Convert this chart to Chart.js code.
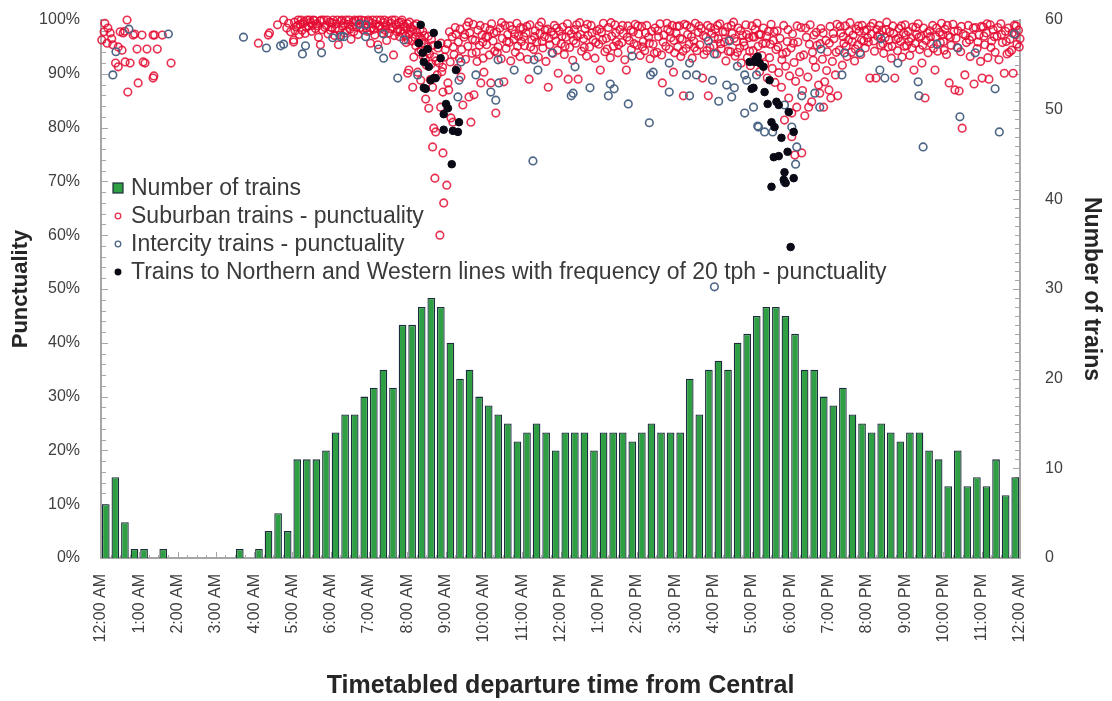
<!DOCTYPE html>
<html>
<head>
<meta charset="utf-8">
<script src="https://cdn.jsdelivr.net/npm/chart.js@4"></script>
<style>
body{margin:0;background:#fff;}
#wrap{width:1112px;height:701px;}
</style>
</head>
<body>
<div id="wrap"><canvas id="chart" width="1112" height="701"></canvas></div>
<script>
// tick labels along the time axis (one per hour)
const hourLabels = ['12:00 AM','1:00 AM','2:00 AM','3:00 AM','4:00 AM','5:00 AM','6:00 AM','7:00 AM','8:00 AM','9:00 AM','10:00 AM','11:00 AM',
	'12:00 PM','1:00 PM','2:00 PM','3:00 PM','4:00 PM','5:00 PM','6:00 PM','7:00 PM','8:00 PM','9:00 PM','10:00 PM','11:00 PM','12:00 AM'];

// number of trains in each 15 minute slot, 00:00 .. 23:45
const trainsPer15 = [
	6,9,4,1,1,0,1,0,
	0,0,0,0,0,0,1,0,
	1,3,5,3,11,11,11,12,
	14,16,16,18,19,21,19,26,
	26,28,29,28,24,20,21,18,
	17,16,15,13,14,15,14,12,
	14,14,14,12,14,14,14,13,
	14,15,14,14,14,20,16,21,
	22,21,24,25,27,28,28,27,
	25,21,21,18,17,19,16,15,
	14,15,14,13,14,14,12,11,
	8,12,8,9,8,11,7,9
];

// [hour of day, punctuality %]
const suburban = [
	[0.02,96.3],[0.08,97.8],[0.1,99.4],[0.16,95.7],[0.18,98.5],[0.24,97.6],[0.28,96.5],[0.31,95.4],[0.38,92.0],[0.45,95.0],[0.45,91.3],[0.5,97.8],
	[0.55,94.4],[0.58,97.6],[0.62,97.9],[0.63,92.2],[0.68,100],[0.7,86.6],[0.76,92.0],[0.84,97.2],[0.88,97.4],[0.94,94.6],[0.97,88.3],[1.07,97.2],
	[1.1,92.2],[1.15,92.0],[1.2,94.6],[1.36,97.2],[1.36,89.2],[1.38,89.6],[1.4,97.2],[1.47,94.6],[1.6,97.2],[1.83,92.0],
	[4.11,95.7],[4.37,97.2],[4.4,97.6],[4.61,99.1],[4.77,100],[4.85,98.5],[4.9,99.4],[4.95,97.8],[5.03,96.3],[5.03,95.9],
	[5.05,99.6],[5.1,98.7],[5.15,100],[5.2,99.2],[5.25,98.1],[5.3,99.7],[5.33,97.5],[5.38,100],[5.42,98.9],[5.47,99.5],[5.5,97.9],
	[5.55,100],[5.6,98.4],[5.63,99.3],[5.68,96.8],[5.72,99.8],[5.73,95.4],[5.78,98.2],[5.82,100],[5.88,99],[5.93,97.4],[5.97,99.6],
	[6.02,98.6],[6.06,100],[6.1,97.1],[6.14,99.3],[6.2,95.4],[6.22,98.1],[6.27,99.8],[6.31,98.9],[6.36,97.6],[6.4,100],[6.45,99.2],
	[6.5,98.3],[6.53,96.4],[6.58,99.6],[6.62,100],[6.67,98.7],[6.71,97.3],[6.76,99.4],[6.8,100],[6.84,98.2],[6.9,99.1],[6.95,97.9],
	[7.0,99.7],[7.04,95.7],[7.06,98.5],[7.1,100],[7.15,97.2],[7.18,99.2],[7.23,95.4],[7.25,98.8],[7.3,100],[7.34,97.6],[7.38,99.5],
	[7.42,98.1],[7.46,96.2],[7.5,99.8],[7.55,98.4],[7.6,100],[7.64,93.5],[7.66,97.1],[7.7,99.1],[7.75,98.2],[7.8,96.9],[7.84,99.6],
	[7.88,97.5],[7.92,98.8],[7.97,95.8],
	[8.0,99.3],[8.01,90.1],[8.04,97.4],[8.04,90.7],[8.08,98.6],[8.12,96.1],[8.14,87.5],[8.17,93.1],[8.18,99.0],[8.22,95.2],[8.25,97.7],
	[8.27,90.3],[8.3,94.1],[8.33,98.2],[8.35,88.8],[8.38,96.3],[8.42,93.2],[8.45,97.1],[8.48,85.3],[8.5,91.6],[8.53,95.0],[8.56,83.6],
	[8.58,93.7],[8.6,88.9],[8.63,96.4],[8.66,76.4],[8.66,87.5],[8.69,79.9],[8.72,70.6],[8.74,79.2],[8.75,92.4],[8.8,94.8],[8.85,60.0],
	[8.87,83.8],[8.9,90.4],[8.93,75.3],[8.93,86.6],[8.95,66.0],[8.97,93.1],
	[9.03,69.3],[9.06,88.3],[9.05,95.6],[9.08,87.0],[9.12,92.2],[9.14,81.8],[9.17,96.9],[9.19,81.0],[9.22,93.6],[9.27,97.4],[9.3,91.0],
	[9.33,95.9],[9.38,98.3],[9.4,89.4],[9.42,94.5],[9.45,84.2],[9.48,96.8],[9.52,92.7],[9.55,98.9],[9.58,95.1],[9.61,85.7],[9.63,97.6],
	[9.66,81.0],[9.69,93.8],[9.72,99.2],[9.74,86.1],[9.77,96.2],[9.8,94.0],[9.84,98.1],[9.88,95.3],[9.92,88.3],[9.95,97.2],[9.98,92.9],
	[10.0,90.3],[10.03,98.6],[10.07,95.4],[10.1,97.0],[10.14,93.5],[10.18,88.3],[10.2,99.3],[10.24,96.1],[10.28,94.2],[10.31,82.7],
	[10.33,97.8],[10.37,95.0],[10.42,98.5],[10.45,92.8],[10.48,96.6],[10.52,88.5],[10.55,99.0],[10.58,94.7],[10.62,97.3],[10.66,95.8],
	[10.7,92.4],[10.74,98.2],[10.78,96.4],[10.82,94.0],[10.86,99.4],[10.9,97.0],[10.94,93.2],[10.98,96.0],
	[11.02,98.4],[11.06,95.2],[11.1,97.6],[11.14,92.7],[11.18,89.0],[11.2,99.1],[11.25,96.3],[11.3,94.5],[11.34,98.0],[11.38,95.9],
	[11.42,93.1],[11.46,97.5],[11.5,99.6],[11.54,94.8],[11.58,96.9],[11.62,92.3],[11.66,98.3],[11.68,87.5],[11.72,95.4],[11.76,97.8],
	[11.8,93.8],[11.84,99.0],[11.88,96.1],[11.92,94.4],[11.94,90.1],[11.97,97.9],
	[12.02,95.6],[12.06,98.7],[12.1,93.6],[12.14,96.8],[12.18,99.3],[12.2,89.0],[12.24,94.9],[12.28,97.4],[12.32,92.5],[12.36,98.2],
	[12.4,95.7],[12.44,97.0],[12.46,89.0],[12.5,99.5],[12.55,94.2],[12.6,96.5],[12.64,98.4],[12.68,93.3],[12.72,97.1],[12.76,95.0],
	[12.8,99.0],[12.85,96.3],[12.9,92.9],[12.95,98.0],
	[13.0,95.5],[13.04,90.7],[13.07,97.7],[13.12,99.4],[13.16,94.1],[13.2,96.6],[13.25,98.6],[13.3,93.0],[13.34,97.0],[13.38,95.1],
	[13.42,99.1],[13.46,96.0],[13.5,93.9],[13.55,98.2],[13.6,95.8],[13.64,97.5],[13.68,92.6],[13.72,90.7],[13.76,98.9],[13.8,96.2],
	[13.85,94.5],[13.9,97.8],[13.95,99.2],
	[14.0,95.3],[14.04,97.4],[14.08,93.4],[14.12,98.8],[14.16,96.0],[14.2,94.3],[14.25,99.0],[14.3,96.8],[14.34,92.8],[14.38,97.9],
	[14.42,95.5],[14.47,98.5],[14.52,94.0],[14.56,96.9],[14.6,99.3],[14.64,93.5],[14.66,88.3],[14.7,97.2],[14.75,95.1],[14.8,98.3],
	[14.84,94.6],[14.88,96.7],[14.92,99.0],[14.95,90.3],[14.98,93.9],
	[15.02,97.6],[15.06,95.0],[15.1,98.9],[15.14,93.2],[15.18,96.4],[15.21,85.9],[15.24,99.2],[15.28,94.7],[15.32,97.3],[15.36,95.5],
	[15.4,98.6],[15.44,92.9],[15.48,96.1],[15.52,99.4],[15.56,94.3],[15.6,97.7],[15.64,95.4],[15.68,98.4],[15.71,89.2],[15.75,93.6],
	[15.8,96.8],[15.84,99.0],[15.86,85.9],[15.9,94.9],[15.95,97.5],
	[16.0,95.2],[16.04,98.3],[16.08,93.7],[16.12,96.5],[16.16,99.3],[16.2,94.6],[16.24,97.8],[16.28,95.9],[16.32,92.4],[16.36,98.7],
	[16.4,96.3],[16.44,94.1],[16.48,97.5],[16.52,99.6],[16.56,93.3],[16.6,96.0],[16.64,98.5],[16.68,94.8],[16.72,92.0],[16.76,97.1],
	[16.8,95.2],[16.84,99.1],[16.88,93.0],[16.92,96.7],[16.96,91.5],
	[17.0,98.9],[17.03,94.3],[17.06,96.8],[17.1,92.6],[17.13,99.4],[17.16,95.1],[17.2,90.4],[17.23,97.3],[17.26,93.4],[17.3,98.5],
	[17.33,91.8],[17.36,95.7],[17.4,89.2],[17.43,97.9],[17.46,93.0],[17.5,99.2],[17.53,91.0],[17.56,96.2],[17.6,88.4],[17.63,94.5],
	[17.66,98.0],[17.7,90.2],[17.73,96.6],[17.77,87.5],[17.8,93.7],[17.83,99.0],[17.85,81.4],[17.88,91.4],[17.92,96.0],[17.96,85.5],[17.98,89.6],
	[18.02,94.8],[18.04,78.3],[18.04,82.7],[18.06,97.4],[18.1,92.1],[18.12,74.9],[18.14,88.6],[18.17,83.8],[18.2,95.9],[18.24,90.3],
	[18.28,98.6],[18.3,75.3],[18.32,86.9],[18.35,93.5],[18.38,82.2],[18.42,96.8],[18.46,89.4],[18.48,83.8],[18.52,99.1],[18.56,84.8],
	[18.58,94.0],[18.62,97.2],[18.66,91.2],[18.7,95.3],[18.74,87.9],[18.77,86.4],[18.8,98.4],[18.84,92.7],[18.87,83.8],[18.9,88.5],
	[18.93,96.2],[18.97,94.1],
	[19.01,87.0],[19.04,98.8],[19.06,85.5],[19.1,92.3],[19.14,96.5],[19.18,89.8],[19.22,99.2],[19.24,85.9],[19.28,94.4],[19.32,97.6],
	[19.36,91.6],[19.4,95.7],[19.44,98.9],[19.48,93.2],[19.52,96.3],[19.56,99.5],[19.6,94.0],[19.64,97.2],[19.68,92.4],[19.72,98.3],
	[19.76,95.4],[19.8,97.9],[19.84,93.6],[19.88,99.0],[19.92,96.1],[19.96,94.8],
	[20.0,98.2],[20.04,95.9],[20.08,89.2],[20.12,97.4],[20.16,99.4],[20.2,94.2],[20.24,89.2],[20.28,97.0],[20.32,99.0],[20.36,95.3],
	[20.4,98.1],[20.44,93.8],[20.48,96.7],[20.52,99.6],[20.56,95.0],[20.6,97.8],[20.64,92.9],[20.68,98.9],[20.73,89.2],[20.76,96.4],
	[20.8,94.3],[20.84,98.4],[20.88,96.0],[20.92,93.1],[20.96,97.6],
	[21.0,99.1],[21.04,95.2],[21.08,97.9],[21.12,93.4],[21.16,96.6],[21.2,98.7],[21.23,90.7],[21.26,95.7],[21.3,97.3],[21.34,99.3],
	[21.38,94.5],[21.42,97.0],[21.44,92.0],[21.48,98.5],[21.52,85.5],[21.55,96.2],[21.6,93.9],[21.64,98.0],[21.68,95.6],[21.72,99.0],
	[21.78,90.7],[21.8,96.9],[21.85,94.2],[21.9,97.7],[21.95,99.4],
	[22.0,96.0],[22.04,98.3],[22.08,93.6],[22.12,97.1],[22.15,88.3],[22.2,95.3],[22.25,99.2],[22.3,87.0],[22.33,96.6],[22.38,98.0],
	[22.41,86.8],[22.45,94.1],[22.49,79.9],[22.52,97.4],[22.56,89.8],[22.6,95.8],[22.65,99.0],[22.7,93.2],[22.75,96.9],[22.8,88.1],
	[22.84,98.6],[22.88,94.7],[22.93,97.2],[22.97,92.3],
	[23.01,89.2],[23.04,98.7],[23.08,95.4],[23.12,97.6],[23.16,93.0],[23.19,89.0],[23.22,99.1],[23.26,96.1],[23.3,98.2],[23.35,94.0],
	[23.4,97.0],[23.45,92.6],[23.5,99.3],[23.54,95.8],[23.59,90.1],[23.62,97.9],[23.66,93.7],[23.7,98.5],[23.74,96.4],[23.78,94.4],
	[23.82,90.1],[23.85,99.0],[23.88,97.3],[23.92,95.5],[23.96,98.1],[24.0,96.5],
	// second pass through the dense band
	[5.07,98.0],[5.13,99.0],[5.18,97.3],[5.23,100],[5.28,99.3],[5.36,98.6],[5.45,100],[5.52,99.0],[5.58,99.9],[5.66,98.9],[5.75,100],
	[5.85,98.6],[5.91,100],[5.99,98.1],[6.04,99.5],[6.12,98.4],[6.17,100],[6.25,97.2],[6.29,100],[6.34,99.4],[6.43,98.0],[6.48,100],
	[6.56,98.8],[6.6,97.8],[6.65,99.8],[6.73,100],[6.78,98.6],[6.87,99.9],[6.93,98.5],[6.98,100],[7.03,98.0],[7.08,99.4],[7.13,98.3],
	[7.2,100],[7.28,99.0],[7.32,98.4],[7.4,100],[7.44,99.0],[7.52,97.6],[7.58,99.4],[7.62,98.6],[7.68,100],[7.73,97.8],[7.78,99.5],
	[7.82,98.0],[7.86,100],[7.9,99.2],[7.95,97.0],[7.99,98.4],[8.02,96.3],[8.06,99.6],[8.1,97.9],[8.15,98.2],[8.2,96.8],[8.24,99.3],
	[8.28,95.9],[8.32,96.9],[8.36,94.4],[8.4,97.9],[8.44,95.5],[8.47,92.7],[8.52,94.2],[8.55,97.0],[8.62,91.8],[8.68,95.3],[8.71,93.1],
	[8.78,89.8],[8.83,92.0],[8.88,95.7],[8.92,91.2],[8.99,94.5],
	[9.1,97.8],[9.2,95.0],[9.25,98.6],[9.36,92.9],[9.5,97.3],[9.6,99.6],[9.7,96.4],[9.82,92.3],[9.9,99.0],[9.97,95.9],
	[10.05,96.8],[10.16,98.2],[10.26,97.6],[10.35,93.9],[10.46,99.5],[10.6,96.0],[10.68,98.9],[10.8,97.4],[10.88,95.1],[10.96,98.6],
	[11.04,96.9],[11.12,98.8],[11.22,95.0],[11.32,96.9],[11.44,98.9],[11.52,96.0],[11.6,98.1],[11.7,96.6],[11.82,97.2],[11.9,98.5],
	[12.04,97.0],[12.12,95.1],[12.22,98.0],[12.34,96.2],[12.42,99.1],[12.52,97.3],[12.62,94.9],[12.7,99.2],[12.82,97.6],[12.92,95.8],
	[13.02,98.3],[13.1,96.3],[13.22,94.6],[13.32,99.5],[13.44,97.6],[13.52,95.4],[13.62,99.0],[13.74,96.8],[13.84,98.1],[13.92,95.6],
	[14.02,98.9],[14.14,95.0],[14.22,97.6],[14.32,95.7],[14.45,93.8],[14.54,98.0],[14.68,95.9],[14.78,99.4],[14.86,97.8],[14.96,96.2],
	[15.04,98.8],[15.12,96.6],[15.2,94.2],[15.3,99.0],[15.42,96.9],[15.5,94.9],[15.62,98.9],[15.73,97.1],[15.82,94.3],[15.92,98.6],
	[16.02,96.8],[16.1,99.0],[16.18,95.6],[16.3,97.8],[16.38,94.2],[16.46,99.0],[16.54,96.6],[16.62,94.0],[16.7,98.0],[16.78,95.9],
	[16.86,97.3],[16.94,94.2],
	[17.02,96.9],[17.08,98.3],[17.18,97.3],[17.28,95.6],[17.38,97.0],[17.48,95.5],[17.58,97.8],[17.68,95.0],[17.78,92.6],[17.9,94.0],[17.94,98.2],
	[18.08,95.7],[18.18,98.9],[18.26,93.2],[18.4,98.5],[18.5,95.5],[18.6,92.5],[18.68,97.7],[18.78,95.6],[18.86,97.6],[18.95,90.6],
	[19.02,95.7],[19.12,97.5],[19.2,94.0],[19.3,98.8],[19.38,96.9],[19.46,95.1],[19.54,97.9],[19.62,96.0],[19.7,94.6],[19.78,98.9],
	[19.86,96.3],[19.94,98.0],
	[20.02,96.7],[20.1,98.8],[20.18,96.1],[20.26,98.2],[20.34,97.3],[20.42,95.6],[20.5,98.2],[20.58,96.3],[20.66,95.1],[20.7,97.5],
	[20.82,96.6],[20.9,98.9],[20.98,95.1],
	[21.02,97.2],[21.1,96.0],[21.18,94.8],[21.28,98.6],[21.36,96.8],[21.46,95.3],[21.58,97.6],[21.66,96.9],[21.74,94.7],[21.82,98.5],
	[21.92,95.8],[21.98,97.3],
	[22.02,94.4],[22.1,99.0],[22.18,96.8],[22.28,97.9],[22.36,94.9],[22.47,98.8],[22.58,97.1],[22.68,96.3],[22.78,98.5],[22.9,95.9],[22.99,98.8],
	[23.06,97.0],[23.14,99.3],[23.24,94.9],[23.33,96.9],[23.42,98.6],[23.52,97.3],[23.64,96.0],[23.72,94.0],[23.8,97.6],[23.9,98.9],[23.98,95.0]
];

const intercity = [
	[0.31,89.8],[0.39,94.1],[0.73,98.3],[1.76,97.4],[3.72,96.8],[4.32,94.8],[4.69,95.2],[4.77,95.5],[5.26,93.7],[5.34,95.2],[5.76,93.9],
	[6.05,96.7],[6.26,96.9],[6.34,96.9],[6.75,99.2],[6.91,99.1],[6.91,96.9],[7.25,94.6],[7.38,97.4],[7.38,92.9],[7.75,89.2],[7.91,96.3],
	[8.27,89.8],[9.32,85.7],[9.35,88.8],[9.4,92.2],[9.79,89.8],[10.18,86.6],[10.31,85.1],[10.37,92.6],[10.39,88.3],[10.79,90.7],
	[11.28,73.8],[11.31,92.6],[11.41,90.7],[11.78,93.9],[12.28,85.9],[12.33,86.4],[12.38,91.3],[12.77,87.4],[13.25,85.9],[13.3,88.1],
	[13.4,87.2],[13.77,84.4],[13.87,93.3],[14.32,80.9],[14.35,89.8],[14.42,90.3],[14.84,92.0],[14.84,86.6],[15.29,89.8],[15.37,92.0],
	[15.37,85.9],[15.55,89.8],[15.86,96.1],[15.97,88.8],[16.02,93.7],[16.02,50.4],[16.13,84.9],[16.34,87.9],[16.41,96.1],[16.47,85.7],
	[16.54,87.4],[16.62,91.4],[16.81,89.8],[16.81,82.7],[16.86,88.8],[17.04,83.8],[17.12,89.8],[17.15,80.3],[17.17,80.1],[17.33,79.2],
	[17.54,79.2],[17.85,84.2],[17.85,69.9],[18.04,80.1],[18.14,73.2],[18.17,76.4],[18.3,85.9],[18.64,86.4],[18.77,83.8],[18.8,94.6],
	[19.35,89.8],[19.42,93.9],[19.82,93.9],[20.34,90.7],[20.37,96.5],[20.47,89.2],[20.81,92.0],[21.34,88.5],[21.36,85.9],[21.47,76.4],
	[21.83,95.5],[22.38,94.8],[22.43,82.0],[22.83,93.9],[23.35,87.2],[23.46,79.2],[23.85,97.4]
];

const northWest = [
	[8.3,95.7],[8.35,99.1],[8.4,93.9],[8.43,92.2],[8.43,87.4],[8.48,87.2],[8.53,94.6],[8.56,91.3],[8.61,88.8],[8.69,97.6],[8.69,89.2],
	[8.74,89.2],[8.8,95.4],[8.87,92.9],[8.95,82.5],[8.95,79.6],[9.01,84.4],[9.06,83.6],[9.16,73.2],[9.19,79.4],[9.27,90.7],[9.32,79.2],[9.35,81.0],
	[16.94,92.2],[16.99,87.2],[17.04,87.4],[17.07,92.2],[17.1,92.8],[17.15,93.2],[17.2,92.0],[17.3,91.3],[17.33,86.6],[17.41,84.4],
	[17.46,88.8],[17.51,81.0],[17.51,69.0],[17.57,74.5],[17.59,80.1],[17.64,84.8],[17.7,84.2],[17.7,74.7],[17.77,78.1],[17.83,70.3],
	[17.85,71.7],[17.88,69.7],[17.93,75.5],[17.96,82.9],[18.01,57.8],[18.09,79.2],[18.09,70.6]
];

const seriesNames = ['Number of trains','Suburban trains - punctuality','Intercity trains - punctuality',
	'Trains to Northern and Western lines with frequency of 20 tph - punctuality'];

const FONT = '"Liberation Sans", Arial, sans-serif';
const toXY = arr => arr.map(p => ({x: p[0], y: p[1]}));

const minorTicks = {
	id: 'minorTicks',
	beforeDatasetsDraw(chart) {
		const {ctx, chartArea: a, scales} = chart;
		ctx.save();
		ctx.strokeStyle = '#a6a6a6';
		ctx.lineWidth = 1;
		ctx.beginPath();
		for (let v = 0; v <= 100; v += 2) {
			const py = Math.round(scales.y.getPixelForValue(v)) + 0.5;
			ctx.moveTo(a.left, py); ctx.lineTo(a.left + (v % 10 ? 5 : 7), py);
		}
		for (let v = 0; v <= 60; v += 1) {
			const py = Math.round(scales.y1.getPixelForValue(v)) + 0.5;
			ctx.moveTo(a.right, py); ctx.lineTo(a.right - (v % 10 ? 5 : 7), py);
		}
		for (let q = 0; q <= 96; q++) {
			const px = Math.round(scales.x.getPixelForValue(q / 4)) + 0.5;
			ctx.moveTo(px, a.bottom); ctx.lineTo(px, a.bottom - (q % 4 ? 3 : 6));
		}
		ctx.stroke();
		ctx.restore();
	}
};

const insideLegend = {
	id: 'insideLegend',
	afterDatasetsDraw(chart) {
		const {ctx, chartArea: a} = chart;
		ctx.save();
		ctx.font = '23px ' + FONT;
		ctx.textBaseline = 'middle';
		chart.data.datasets.forEach((ds, i) => {
			const y = a.top + 168 + i * 28;
			const mx = a.left + 17;
			if (i === 0) {
				ctx.fillStyle = ds.backgroundColor;
				ctx.fillRect(mx - 5, y - 5, 10, 10);
				ctx.strokeStyle = ds.borderColor;
				ctx.lineWidth = 1.2;
				ctx.strokeRect(mx - 5, y - 5, 10, 10);
			} else {
				ctx.beginPath();
				ctx.arc(mx, y, 2.8, 0, Math.PI * 2);
				if (ds.backgroundColor !== 'transparent') {
					ctx.fillStyle = ds.backgroundColor;
					ctx.fill();
				}
				ctx.strokeStyle = ds.borderColor;
				ctx.lineWidth = 1.3;
				ctx.stroke();
			}
			ctx.fillStyle = '#3a3a3a';
			ctx.fillText(ds.label, a.left + 30, y + 1);
		});
		ctx.restore();
	}
};

// vertical axes: no extra room above/below for the labels, the plot sits at a fixed spot
const fixVertical = w => s => { s.width = w; s.paddingTop = 0; s.paddingBottom = 0; };

new Chart(document.querySelector('#chart').getContext('2d'), {
	type: 'bar',
	data: {
		datasets: [
			{
				type: 'bar',
				label: seriesNames[0],
				data: trainsPer15.map((v, i) => ({x: i / 4 + 0.125, y: v})),
				yAxisID: 'y1',
				backgroundColor: '#2ea043',
				borderColor: '#1d2c3c',
				borderWidth: 1.3,
				categoryPercentage: 1,
				barPercentage: 0.8,
				order: 4
			},
			{
				type: 'scatter',
				label: seriesNames[1],
				data: toXY(suburban),
				yAxisID: 'y',
				pointRadius: 3.8,
				pointBorderWidth: 1.6,
				borderColor: 'rgba(228,12,50,0.85)',
				backgroundColor: 'transparent',
				clip: false,
				order: 3
			},
			{
				type: 'scatter',
				label: seriesNames[2],
				data: toXY(intercity),
				yAxisID: 'y',
				pointRadius: 3.8,
				pointBorderWidth: 1.6,
				borderColor: '#4d6686',
				backgroundColor: 'transparent',
				clip: false,
				order: 2
			},
			{
				type: 'scatter',
				label: seriesNames[3],
				data: toXY(northWest),
				yAxisID: 'y',
				pointRadius: 3.8,
				pointBorderWidth: 1,
				borderColor: '#0a0a16',
				backgroundColor: '#0a0a16',
				clip: false,
				order: 1
			}
		]
	},
	options: {
		responsive: false,
		animation: false,
		devicePixelRatio: 1,
		layout: {padding: {top: 20, left: 0, right: 0, bottom: 0}, autoPadding: false},
		plugins: {
			legend: {display: false},
			tooltip: {enabled: false}
		},
		scales: {
			x: {
				type: 'linear',
				min: 0,
				max: 24,
				offset: false,
				grid: {display: false, drawTicks: false},
				border: {display: true, color: '#a6a6a6', width: 2},
				ticks: {
					stepSize: 1,
					autoSkip: false,
					maxRotation: 90,
					minRotation: 90,
					padding: 16,
					color: '#404040',
					font: {family: FONT, size: 16},
					callback: v => hourLabels[Math.round(v)]
				},
				title: {
					display: true,
					text: 'Timetabled departure time from Central',
					color: '#262626',
					font: {family: FONT, size: 25, weight: 'bold'},
					padding: {top: 0, bottom: 0}
				},
				afterFit: s => { s.height = 143; s.paddingLeft = 0; s.paddingRight = 0; }
			},
			y: {
				position: 'left',
				min: 0,
				max: 100,
				grid: {display: false, drawTicks: false},
				border: {display: true, color: '#a6a6a6', width: 2},
				ticks: {
					stepSize: 10,
					padding: 21,
					color: '#404040',
					font: {family: FONT, size: 16},
					callback: v => v + '%'
				},
				title: {
					display: true,
					text: 'Punctuality',
					color: '#262626',
					font: {family: FONT, size: 22, weight: 'bold'},
					padding: {top: 8, bottom: 0}
				},
				afterFit: fixVertical(101)
			},
			y1: {
				position: 'right',
				min: 0,
				max: 60,
				grid: {display: false, drawTicks: false},
				border: {display: true, color: '#a6a6a6', width: 2},
				ticks: {
					stepSize: 10,
					padding: 25,
					color: '#404040',
					font: {family: FONT, size: 16}
				},
				title: {
					display: true,
					text: 'Number of trains',
					color: '#262626',
					font: {family: FONT, size: 23, weight: 'bold'},
					padding: {top: 7, bottom: 0}
				},
				afterFit: fixVertical(92)
			}
		}
	},
	plugins: [minorTicks, insideLegend]
});
</script>
</body>
</html>
